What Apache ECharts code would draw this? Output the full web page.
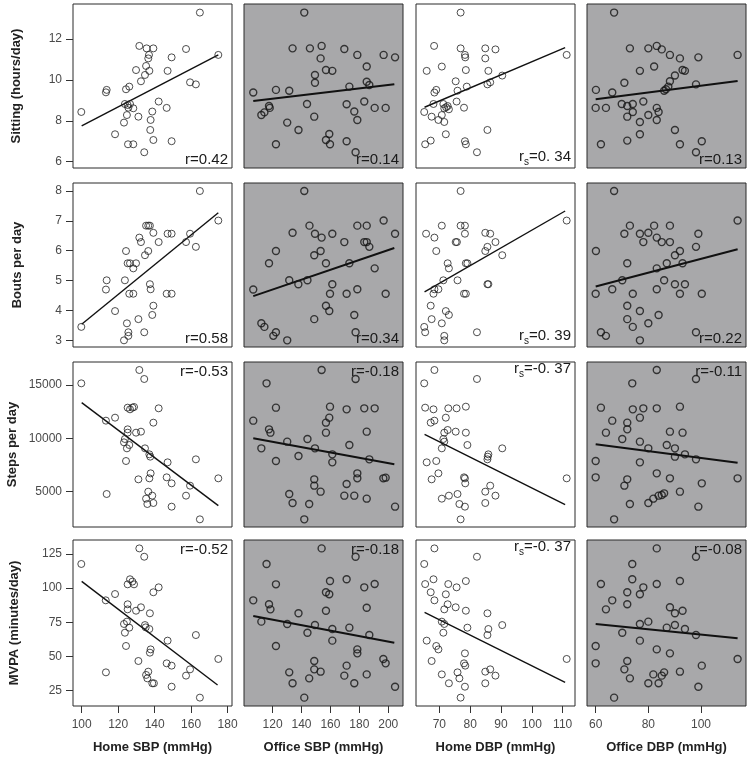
<!DOCTYPE html>
<html><head><meta charset="utf-8">
<script src="https://cdn.jsdelivr.net/npm/echarts@6/dist/echarts.min.js"></script>
<style>html,body{margin:0;padding:0;background:#fff}#c{width:753px;height:758px}</style>
</head><body><div id="c"></div>
<script>
// ---------- labels & ticks ----------
const xTitles = ['Home SBP (mmHg)', 'Office SBP (mmHg)', 'Home DBP (mmHg)', 'Office DBP (mmHg)'];
const yTitles = ['Sitting (hours/day)', 'Bouts per day', 'Steps per day', 'MVPA (minutes/day)'];
const xTicks = [[100,120,140,160,180],[120,140,160,180,200],[70,80,90,100,110],[60,80,100]];
const yTicks = [[6,8,10,12],[3,4,5,6,7,8],[5000,10000,15000],[25,50,75,100,125]];
const xRanges = [[95.25,182.4],[100.2,210.2],[62.43,114.0],[56.71,117.09]];
const yRanges = [[5.69,13.71],[2.777,8.268],[1688,17156],[13.78,135.24]];
const rKind = ['r','r','rs','r'];
const rValues = [
  ['0.42','0.14','0. 34','0.13'],
  ['0.58','0.34','0. 39','0.22'],
  ['-0.53','-0.18','-0. 37','-0.11'],
  ['-0.52','-0.18','-0. 37','-0.08']
];

// ---------- row 1: sitting (hours/day) ----------
const sitting_homeSBP = [[99.8,8.43],[164.8,13.29],[174.9,11.22],[131.6,11.66],[135.6,11.54],[139.3,11.54],[136.9,11.22],[136.5,11.05],[149.3,11.10],[157.2,11.51],[129.8,10.48],[135.3,10.68],[137.1,10.44],[134.7,10.24],[147.1,10.44],[132.5,9.93],[159.4,9.88],[162.6,9.78],[113.7,9.51],[113.3,9.39],[124.3,9.54],[126.1,9.67],[123.7,8.82],[125.2,8.77],[126.5,8.82],[125.6,8.64],[128.3,8.61],[124.8,8.28],[131.1,8.20],[142.2,8.94],[138.7,8.45],[146.6,8.63],[123.2,7.91],[137.8,8.04],[137.6,7.55],[118.3,7.34],[125.4,6.85],[128.3,6.85],[139.3,7.06],[149.3,7.00],[134.3,6.46]];
const sitting_officeSBP = [[141.9,13.29],[106.6,9.38],[133.8,11.54],[145.8,11.54],[153.9,11.66],[153.2,11.05],[149.3,10.24],[149.3,9.86],[156.9,10.48],[161.3,10.44],[169.6,11.51],[178.6,11.22],[185.1,10.65],[196.8,11.22],[204.7,11.10],[122.3,9.51],[131.5,9.47],[173.1,9.67],[185.1,9.91],[186.9,9.75],[183.4,8.94],[171.2,8.81],[176.5,8.45],[178.6,8.04],[190.6,8.63],[198.2,8.63],[112.2,8.28],[114.3,8.41],[117.5,8.72],[118.0,8.63],[143.8,8.82],[148.8,8.20],[130.1,7.91],[137.9,7.55],[122.3,6.85],[159.2,7.35],[156.9,7.06],[159.7,6.85],[171.2,7.00],[177.4,6.46]];
const sitting_homeDBP = [[76.9,13.29],[68.3,11.66],[76.9,11.54],[78.3,11.22],[78.4,11.10],[84.9,11.54],[88.2,11.49],[84.9,11.05],[65.9,10.44],[70.8,10.65],[78.6,10.48],[85.9,10.44],[90.4,10.21],[75.3,9.93],[69.0,9.51],[68.4,9.38],[75.9,9.47],[78.9,9.67],[85.6,9.78],[86.5,9.88],[68.1,8.82],[71.3,8.82],[72.2,8.66],[72.7,8.72],[73.1,8.56],[71.6,8.61],[75.6,8.94],[78.0,8.64],[65.1,8.43],[67.5,8.20],[70.8,8.28],[69.7,8.04],[71.6,7.94],[72.1,7.34],[85.6,7.55],[65.4,6.85],[67.2,7.03],[78.3,7.00],[78.6,6.85],[82.2,6.46],[111.3,11.22]];
const sitting_officeDBP = [[67.0,13.29],[73.0,11.54],[80.0,11.54],[83.2,11.66],[85.1,11.49],[88.2,11.22],[92.0,11.05],[99.0,11.10],[113.9,11.22],[76.8,10.44],[82.2,10.65],[93.0,10.48],[93.9,10.44],[90.1,10.21],[88.2,9.93],[70.9,9.86],[60.1,9.51],[66.3,9.38],[87.6,9.67],[86.7,9.54],[86.0,9.47],[98.1,9.78],[78.1,8.94],[60.0,8.63],[63.9,8.63],[69.9,8.82],[72.0,8.72],[74.1,8.82],[74.1,8.43],[72.0,8.20],[83.2,8.63],[83.9,8.43],[80.0,8.28],[76.8,7.94],[83.2,8.04],[76.8,7.34],[90.1,7.55],[62.0,6.85],[72.0,7.03],[92.0,6.85],[100.3,7.00],[98.1,6.46]];

// ---------- row 2: bouts per day ----------
const bouts_homeSBP = [[99.8,3.45],[164.8,8.00],[174.9,7.01],[113.3,4.70],[113.7,5.01],[118.3,3.98],[124.3,5.99],[123.7,5.01],[125.2,5.58],[126.5,5.58],[128.3,5.41],[129.8,5.58],[131.6,6.44],[132.5,6.29],[134.7,5.85],[136.5,5.99],[135.3,6.84],[136.5,6.84],[137.4,6.84],[139.3,6.60],[142.2,6.29],[147.1,6.57],[149.3,6.57],[157.2,6.29],[159.4,6.57],[162.6,6.13],[126.1,4.56],[128.3,4.56],[137.4,4.88],[137.8,4.71],[139.3,4.16],[138.7,3.85],[131.1,3.71],[124.8,3.57],[125.6,3.27],[125.6,3.15],[123.2,3.00],[134.3,3.27],[146.6,4.56],[149.3,4.56]];
const bouts_officeSBP = [[106.6,4.70],[141.9,8.00],[112.2,3.57],[114.3,3.45],[122.3,3.27],[120.5,3.15],[130.1,3.00],[117.5,5.58],[122.3,5.99],[133.8,6.60],[131.5,5.01],[137.8,4.88],[144.1,5.01],[145.5,6.84],[149.3,6.57],[148.8,5.85],[153.2,5.99],[153.9,6.44],[156.9,5.58],[161.3,6.57],[159.7,4.56],[161.3,4.88],[156.9,4.16],[159.2,3.98],[148.8,3.71],[169.6,6.29],[173.1,5.58],[171.2,4.56],[178.6,4.71],[178.6,6.84],[185.1,6.84],[183.4,6.29],[185.1,6.29],[186.9,6.13],[190.6,5.41],[176.5,3.85],[177.4,3.27],[196.8,7.01],[204.7,6.57],[198.2,4.56]];
const bouts_homeDBP = [[76.9,8.00],[111.3,7.01],[70.8,6.84],[76.9,6.84],[78.3,6.84],[65.7,6.57],[68.4,6.44],[78.3,6.57],[84.9,6.60],[86.5,6.57],[75.3,6.29],[75.7,6.29],[88.2,6.29],[69.0,5.99],[84.9,5.99],[85.6,6.13],[90.4,5.85],[72.7,5.58],[73.1,5.41],[78.6,5.58],[79.1,5.58],[71.3,5.01],[75.9,5.01],[68.1,4.56],[68.4,4.71],[69.7,4.71],[78.0,4.56],[78.6,4.56],[85.6,4.88],[85.9,4.88],[67.2,4.16],[72.1,3.98],[73.1,3.85],[67.5,3.71],[70.8,3.57],[65.1,3.45],[65.4,3.27],[71.6,3.15],[71.6,3.00],[82.2,3.27]];
const bouts_officeDBP = [[67.0,8.00],[113.9,7.01],[73.0,6.84],[82.2,6.84],[88.2,6.84],[70.9,6.57],[76.8,6.57],[80.0,6.60],[99.0,6.57],[78.1,6.29],[83.2,6.44],[85.1,6.29],[88.2,6.29],[98.1,6.13],[60.1,5.99],[92.0,5.99],[90.1,5.85],[72.0,5.58],[87.0,5.58],[93.0,5.58],[83.2,5.41],[70.1,5.01],[86.0,5.01],[60.0,4.56],[66.3,4.71],[74.1,4.56],[83.2,4.71],[90.1,4.88],[93.9,4.88],[92.0,4.56],[100.3,4.56],[72.0,4.16],[76.8,3.98],[83.9,3.85],[72.0,3.71],[74.1,3.45],[80.0,3.57],[62.0,3.27],[63.9,3.15],[76.8,3.00],[98.1,3.27]];

// ---------- row 3: steps per day ----------
const steps_homeSBP = [[99.8,15156],[131.6,16406],[134.3,15563],[113.3,11656],[118.3,11938],[125.2,12875],[126.5,12719],[127.8,12875],[128.7,12938],[142.2,12813],[139.3,11469],[125.2,10844],[125.2,10531],[129.8,10531],[132.5,10625],[123.7,9938],[123.2,9625],[126.1,9375],[124.8,9063],[134.7,9063],[124.3,7875],[137.1,8500],[137.6,8281],[147.1,7750],[162.6,8031],[137.8,6719],[137.1,6250],[131.1,6156],[146.6,6344],[149.3,5781],[159.4,5563],[174.9,6250],[113.7,4781],[136.5,5000],[138.7,4625],[135.3,4344],[136.0,3844],[139.3,3938],[149.3,3594],[157.2,4625],[164.8,2406]];
const steps_officeSBP = [[106.6,11656],[115.8,15156],[153.9,16406],[177.4,15563],[122.3,12875],[159.7,12969],[171.2,12719],[183.4,12813],[190.6,12813],[156.9,11469],[159.2,11938],[117.5,10844],[118.5,10531],[156.9,10531],[185.1,10625],[144.1,9938],[130.1,9688],[112.2,9063],[149.3,9063],[173.1,9375],[122.3,7875],[137.9,8344],[161.3,8500],[161.3,7750],[186.9,8031],[148.8,6156],[148.8,5563],[178.6,6719],[178.6,6250],[171.2,5719],[196.6,6250],[198.2,6313],[153.2,5000],[131.5,4781],[133.8,3938],[145.3,3844],[169.6,4625],[176.5,4625],[185.1,4344],[141.9,2406],[204.7,3594]];
const steps_homeDBP = [[65.1,15156],[68.4,16406],[82.2,15563],[65.4,12875],[68.1,12719],[72.9,12813],[75.6,12813],[78.6,12969],[72.1,11938],[67.2,11469],[68.4,11656],[72.7,10781],[71.6,10531],[75.3,10625],[78.6,10531],[71.3,9938],[71.6,9688],[70.8,9063],[79.1,9375],[90.4,9063],[85.9,8500],[85.7,8281],[85.6,8031],[65.9,7750],[69.0,7875],[69.7,6719],[67.5,6156],[78.0,6344],[78.3,6250],[78.4,5781],[111.3,6250],[86.5,5563],[84.9,5000],[88.2,4625],[70.8,4344],[73.1,4625],[75.9,4781],[76.5,3844],[78.3,3594],[84.9,3938],[76.9,2406]];
const steps_officeDBP = [[83.2,16406],[98.1,15563],[73.9,15156],[62.0,12875],[74.1,12719],[78.1,12813],[83.2,12813],[92.0,12969],[66.3,11656],[72.0,11469],[76.8,11938],[63.9,10531],[72.0,10844],[88.2,10625],[93.0,10531],[70.1,9938],[76.8,9688],[80.0,9063],[87.0,9375],[90.1,9063],[90.1,8281],[93.9,8500],[98.1,8031],[60.0,7875],[76.8,7750],[83.2,6719],[60.0,6344],[72.0,6156],[70.9,5563],[88.2,6250],[100.3,5781],[113.9,6250],[92.0,5000],[73.0,3844],[80.0,3938],[81.9,4344],[83.9,4625],[85.1,4688],[86.0,4844],[99.0,3594],[67.0,2406]];

// ---------- row 4: MVPA (minutes/day) ----------
const mvpa_homeSBP = [[99.8,117.7],[131.6,129.1],[134.3,123.0],[113.3,38.4],[113.2,91.1],[118.3,95.7],[125.2,102.8],[126.5,106.5],[127.8,104.8],[128.7,102.8],[139.3,97.0],[142.2,100.6],[125.2,88.2],[125.2,84.5],[129.8,83.5],[132.5,86.0],[137.4,81.6],[123.2,73.8],[124.8,75.5],[126.1,71.1],[123.7,67.4],[134.7,73.0],[135.1,71.3],[137.1,70.1],[124.3,57.7],[137.8,55.2],[137.4,52.8],[147.1,61.6],[162.6,65.7],[131.1,46.7],[146.6,45.0],[149.3,43.3],[174.9,48.2],[159.4,40.6],[157.2,36.0],[136.5,38.9],[135.3,36.5],[136.0,34.0],[138.7,30.4],[139.6,30.4],[149.3,27.9],[164.8,19.9]];
const mvpa_officeSBP = [[153.9,129.1],[177.4,123.0],[115.8,117.7],[106.6,91.1],[122.3,102.8],[159.7,105.2],[171.2,106.5],[183.4,100.6],[190.6,103.0],[156.9,97.0],[159.2,95.5],[117.5,88.2],[118.5,84.5],[156.9,83.5],[185.1,85.7],[137.9,81.6],[112.2,75.5],[130.1,73.8],[149.3,73.0],[161.3,70.1],[173.1,71.1],[144.1,67.4],[122.3,57.7],[161.3,61.6],[186.9,65.7],[178.6,55.2],[178.6,52.3],[148.8,46.7],[148.8,40.6],[196.6,48.2],[198.2,45.0],[171.2,43.3],[153.2,38.9],[131.5,38.4],[133.8,30.4],[145.3,34.0],[169.6,36.0],[176.5,30.4],[185.1,36.9],[141.9,19.9],[204.7,27.9]];
const mvpa_homeDBP = [[68.4,129.1],[82.2,123.0],[65.1,117.7],[68.1,106.5],[65.4,103.0],[72.9,103.0],[75.6,100.6],[78.6,105.2],[67.2,97.0],[72.1,95.5],[68.4,91.1],[72.7,88.2],[71.6,84.5],[75.3,86.0],[78.6,83.5],[85.6,81.6],[70.8,75.5],[71.6,73.8],[90.4,73.0],[79.1,71.1],[85.9,70.1],[71.3,67.4],[85.6,65.7],[65.9,61.6],[69.0,57.7],[69.7,55.2],[78.3,52.3],[67.5,46.7],[78.0,45.0],[78.4,43.3],[111.3,48.2],[86.5,40.6],[84.9,38.9],[88.2,36.0],[70.8,36.9],[75.9,38.4],[76.5,34.0],[73.1,30.4],[78.3,27.9],[84.9,30.4],[76.9,19.9]];
const mvpa_officeDBP = [[83.2,129.1],[98.1,123.0],[73.9,117.7],[73.9,106.5],[62.0,103.0],[83.2,103.0],[78.1,100.6],[92.0,105.2],[72.0,97.0],[76.8,95.5],[66.3,91.1],[63.9,84.5],[72.0,88.2],[88.2,86.0],[90.1,81.6],[93.0,83.5],[76.8,73.8],[80.0,75.5],[87.0,71.1],[90.1,73.0],[93.9,70.1],[70.1,67.4],[98.1,65.7],[76.8,61.6],[60.0,57.7],[83.2,55.2],[88.2,52.3],[60.0,45.0],[72.0,46.7],[70.9,40.6],[113.9,48.2],[100.3,43.3],[92.0,38.9],[73.0,34.0],[80.0,30.4],[81.9,36.9],[83.9,30.4],[85.1,36.0],[86.0,38.4],[99.0,27.9],[67.0,19.9]];

// ---------- fitted lines (end points) ----------
const fitLines = [
  [[[100,7.75],[174.9,11.22]], [[106.6,8.97],[204.2,9.78]], [[65.2,8.66],[110.8,11.58]], [[60,9.05],[113.9,9.95]]],
  [[[100,3.54],[174.9,7.27]], [[106.6,4.48],[204.2,6.09]], [[65.2,4.62],[110.8,7.33]], [[60,4.80],[113.9,6.05]]],
  [[[100,13344],[174.9,3688]], [[106.6,10000],[204.2,7563]], [[65.2,10375],[110.8,3781]], [[60,9438],[113.9,7719]]],
  [[[100,105.0],[174.5,29.1]], [[106.6,79.6],[204.2,60.1]], [[65.2,82.3],[110.8,31.1]], [[60,73.8],[113.9,63.3]]]
];

const panelData = [
  [sitting_homeSBP, sitting_officeSBP, sitting_homeDBP, sitting_officeDBP],
  [bouts_homeSBP, bouts_officeSBP, bouts_homeDBP, bouts_officeDBP],
  [steps_homeSBP, steps_officeSBP, steps_homeDBP, steps_officeDBP],
  [mvpa_homeSBP, mvpa_officeSBP, mvpa_homeDBP, mvpa_officeDBP]
];

// ---------- layout ----------
const colLeft = [73, 244, 416, 587];
const panelW = 159;
const rowTop = [4, 183, 362, 540];
const rowH = [164, 164, 165, 166];
const grayBg = '#a8a8aa';
const FONT = '"Liberation Sans", Arial, sans-serif';
const rowTitleX = [16, 17, 12, 14];
const plain = v => String(v);

const grids = [], xAxes = [], yAxes = [], series = [], graphics = [];
for (let r = 0; r < 4; r++) {
  for (let c = 0; c < 4; c++) {
    const idx = r * 4 + c;
    const gray = (c % 2 === 1);
    grids.push({
      left: colLeft[c], top: rowTop[r], width: panelW, height: rowH[r],
      show: true, backgroundColor: gray ? grayBg : '#ffffff',
      borderColor: '#2a2a2a', borderWidth: 1, containLabel: false, outerBoundsMode: 'none'
    });
    const bottom = (r === 3), left = (c === 0);
    xAxes.push({
      type: 'value', gridIndex: idx, min: xRanges[c][0], max: xRanges[c][1],
      splitLine: { show: false }, axisLine: { show: false },
      axisTick: { show: bottom, customValues: xTicks[c], length: 7, lineStyle: { color: '#333', width: 1 } },
      axisLabel: { show: bottom, customValues: xTicks[c], formatter: plain, margin: 13, fontSize: 12, color: '#4a4a4a', fontFamily: FONT }
    });
    yAxes.push({
      type: 'value', gridIndex: idx, min: yRanges[r][0], max: yRanges[r][1],
      splitLine: { show: false }, axisLine: { show: false },
      axisTick: { show: left, customValues: yTicks[r], length: 7, lineStyle: { color: '#333', width: 1 } },
      axisLabel: { show: left, customValues: yTicks[r], formatter: plain, margin: 11, fontSize: 12, color: '#4a4a4a', fontFamily: FONT }
    });
    series.push({
      type: 'scatter', xAxisIndex: idx, yAxisIndex: idx, data: panelData[r][c],
      symbol: 'circle', symbolSize: 7,
      itemStyle: { color: 'rgba(0,0,0,0)', borderColor: gray ? '#151515' : '#222', borderWidth: gray ? 1.4 : 1 },
      silent: true, z: 3
    });
    series.push({
      type: 'line', xAxisIndex: idx, yAxisIndex: idx, data: fitLines[r][c],
      showSymbol: false, symbol: 'none',
      lineStyle: { color: '#111', width: gray ? 2 : 1.4 }, silent: true, z: 2
    });
    // correlation label
    const top = (r >= 2);
    const isRs = rKind[c] === 'rs';
    const txt = isRs ? '{a|r}{s|s}{a|=' + rValues[r][c] + '}' : '{a|r=' + rValues[r][c] + '}';
    graphics.push({
      type: 'text', z: 10,
      x: colLeft[c] + panelW - 4,
      y: top ? rowTop[r] + 1 : rowTop[r] + rowH[r] - 1,
      style: {
        text: txt, align: 'right', textAlign: 'right',
        verticalAlign: top ? 'top' : 'bottom', textVerticalAlign: top ? 'top' : 'bottom',
        fill: '#1a1a1a',
        rich: {
          a: { fontSize: 15, fontFamily: FONT, fill: '#1a1a1a', color: '#1a1a1a', lineHeight: 16, verticalAlign: 'bottom', padding: isRs ? [0, 0, 3, 0] : [0, 0, 0, 0] },
          s: { fontSize: 10, fontFamily: FONT, fill: '#1a1a1a', color: '#1a1a1a', lineHeight: 10, verticalAlign: 'bottom' }
        }
      }
    });
  }
}
for (let c = 0; c < 4; c++) {
  graphics.push({
    type: 'text', x: colLeft[c] + panelW / 2, y: 747,
    style: { text: xTitles[c], font: 'bold 13px ' + FONT, fill: '#222', align: 'center', textAlign: 'center', verticalAlign: 'middle', textVerticalAlign: 'middle' }
  });
}
for (let r = 0; r < 4; r++) {
  graphics.push({
    type: 'text', x: rowTitleX[r], y: rowTop[r] + rowH[r] / 2, rotation: Math.PI / 2,
    style: { text: yTitles[r], font: 'bold 13px ' + FONT, fill: '#222', align: 'center', textAlign: 'center', verticalAlign: 'middle', textVerticalAlign: 'middle' }
  });
}

const chart = echarts.init(document.getElementById('c'), null, { renderer: 'canvas' });
chart.setOption({
  animation: false,
  backgroundColor: '#ffffff',
  grid: grids, xAxis: xAxes, yAxis: yAxes, series: series, graphic: graphics
});
</script></body></html>
